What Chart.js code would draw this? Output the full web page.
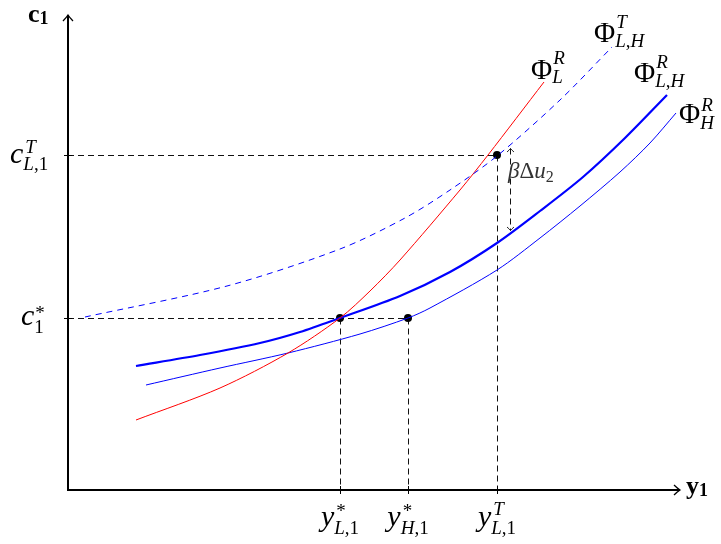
<!DOCTYPE html>
<html><head><meta charset="utf-8">
<script src="https://cdn.jsdelivr.net/npm/chart.js@4/dist/chart.umd.min.js"></script>
<style>html,body{margin:0;padding:0;background:#fff}#wrap{width:721px;height:544px}</style>
</head><body><div id="wrap"><canvas id="c" width="721" height="544"></canvas></div>
<script>
// Curve values (arbitrary units)
const phiLR_x  = [68,152,220,272,302,332,392,420,476];
const phiLR_y  = [70,102,137,172,199,230,300,335,408];
const phiLHT_x = [17,159,272,337,382,429,492,544];
const phiLHT_y = [173,204,241,272,300,334,390,443];
const phiLHR_x = [68,132,192,232,272,332,382,429,472,515,557,599];
const phiLHR_y = [124,135,147,158,172,194,218,247,279,313,352,395];
const phiHR_x  = [78,152,220,292,340,362,429,472,512,552,582,608];
const phiHR_y  = [105,122,137,156,172,182,220,252,284,318,347,377];
// key points
const keyX = [272,340,429];   // y*_{L,1}, y*_{H,1}, y^T_{L,1}
const keyY = [172,335];       // c*_1, c^T_{L,1}
const dotX = [272,340,429];
const dotY = [172,172,335];
const gapTop = 342, gapBottom = 260, gapX = 442; // beta*Delta u_2 arrow
const axisMaxX = 612, axisMaxY = 475;

const pts = (xs, ys) => xs.map((x, i) => ({x, y: ys[i]}));
const FAM = '"Liberation Serif", "Times New Roman", serif';

function runs(ctx, x, y, list, size, measureOnly) {
  let w = 0;
  for (const [t, s] of list) {
    ctx.font = (s === 'i' ? 'italic ' : s === 'b' ? 'bold ' : '') + size + 'px ' + FAM;
    if (!measureOnly) ctx.fillText(t, x + w, y);
    w += ctx.measureText(t).width;
  }
  return w;
}
function mlabel(ctx, x, y, base, bsize, sup, sub, ssize, rise, drop, align, supDx) {
  const bw = runs(ctx, 0, 0, base, bsize, true);
  const sw = Math.max(sup ? runs(ctx, 0, 0, sup, ssize, true) + (supDx||0) : 0, sub ? runs(ctx, 0, 0, sub, ssize, true) : 0);
  const x0 = align === 'center' ? x - (bw + sw) / 2 : x;
  runs(ctx, x0, y, base, bsize);
  if (sup) runs(ctx, x0 + bw + (supDx||0), y - rise, sup, ssize);
  if (sub) runs(ctx, x0 + bw, y + drop, sub, ssize);
}
function arrowHead(ctx, x, y, dir, len, half) {
  ctx.beginPath();
  if (dir === 'up') { ctx.moveTo(x - half, y + len); ctx.quadraticCurveTo(x - half*0.3, y + len*0.4, x, y); ctx.quadraticCurveTo(x + half*0.3, y + len*0.4, x + half, y + len); }
  if (dir === 'down') { ctx.moveTo(x - half, y - len); ctx.quadraticCurveTo(x - half*0.3, y - len*0.4, x, y); ctx.quadraticCurveTo(x + half*0.3, y - len*0.4, x + half, y - len); }
  if (dir === 'right') { ctx.moveTo(x - len, y - half); ctx.quadraticCurveTo(x - len*0.4, y - half*0.3, x, y); ctx.quadraticCurveTo(x - len*0.4, y + half*0.3, x - len, y + half); }
  ctx.stroke();
}

const deco = {
  id: 'deco',
  beforeDatasetsDraw(chart) {
    const ctx = chart.ctx, xs = chart.scales.x, ys = chart.scales.y;
    const X = v => Math.round(xs.getPixelForValue(v)) + 0.5, Y = v => Math.round(ys.getPixelForValue(v)) + 0.5;
    const x0 = Math.round(xs.getPixelForValue(0)), y0 = Math.round(ys.getPixelForValue(0));
    ctx.save();
    // guide lines
    ctx.strokeStyle = '#111'; ctx.lineWidth = 1; ctx.setLineDash([6, 4]);
    ctx.beginPath();
    ctx.moveTo(x0, Y(keyY[1])); ctx.lineTo(X(keyX[2]), Y(keyY[1]));
    ctx.moveTo(x0, Y(keyY[0])); ctx.lineTo(X(keyX[1]), Y(keyY[0]));
    ctx.moveTo(X(keyX[0]), Y(keyY[0])); ctx.lineTo(X(keyX[0]), y0);
    ctx.moveTo(X(keyX[1]), Y(keyY[0])); ctx.lineTo(X(keyX[1]), y0);
    ctx.moveTo(X(keyX[2]), Y(keyY[1])); ctx.lineTo(X(keyX[2]), y0);
    ctx.stroke();
    // beta delta u arrow
    ctx.beginPath();
    ctx.moveTo(X(gapX), Y(gapTop)); ctx.lineTo(X(gapX), Y(gapBottom));
    ctx.stroke();
    ctx.setLineDash([]);
    ctx.lineWidth = 0.9;
    arrowHead(ctx, X(gapX), Y(gapTop), 'up', 3.5, 3.5);
    arrowHead(ctx, X(gapX), Y(gapBottom), 'down', 3.5, 3.5);
    // axes
    ctx.strokeStyle = '#000'; ctx.lineWidth = 2;
    ctx.beginPath();
    ctx.moveTo(x0, y0); ctx.lineTo(x0, ys.getPixelForValue(axisMaxY));
    ctx.moveTo(x0 - 1, y0); ctx.lineTo(xs.getPixelForValue(axisMaxX), y0);
    ctx.stroke();
    ctx.lineWidth = 1.3;
    arrowHead(ctx, x0, ys.getPixelForValue(axisMaxY), 'up', 6, 5);
    arrowHead(ctx, xs.getPixelForValue(axisMaxX), y0, 'right', 6, 5);
    // ticks
    ctx.lineWidth = 1;
    ctx.beginPath();
    keyX.forEach(v => { ctx.moveTo(X(v), y0 - 4); ctx.lineTo(X(v), y0 + 4); });
    keyY.forEach(v => { ctx.moveTo(x0 - 4, Y(v)); ctx.lineTo(x0 + 4, Y(v)); });
    ctx.stroke();
    ctx.restore();
  },
  afterDatasetsDraw(chart) {
    const ctx = chart.ctx, xs = chart.scales.x, ys = chart.scales.y;
    const X = v => xs.getPixelForValue(v), Y = v => ys.getPixelForValue(v);
    const x0 = X(0), y0 = Y(0);
    ctx.save();
    ctx.fillStyle = '#000'; ctx.textBaseline = 'alphabetic'; ctx.textAlign = 'left';
    // axis titles
    const cw = runs(ctx, x0 - 40, Y(axisMaxY) + 7, [['c', 'b']], 26);
    runs(ctx, x0 - 40 + cw, Y(axisMaxY) + 9, [['1', 'b']], 18);
    const yw = runs(ctx, X(axisMaxX) + 6, y0 + 4, [['y', 'b']], 26);
    runs(ctx, X(axisMaxX) + 6 + yw, y0 + 6, [['1', 'b']], 18);
    // y-axis labels
    mlabel(ctx, 10, Y(keyY[1]) + 8, [['c','i']], 30, [['T','i']], [['L','i'],[',1','n']], 19, 10, 7, 'left', 2);
    mlabel(ctx, 21, Y(keyY[0]) + 7, [['c','i']], 30, [['*','n']], [['1','n']], 19, 6, 8, 'left', 1);
    // x-axis labels
    mlabel(ctx, X(keyX[0]), y0 + 36, [['y','i']], 30, [['*','n']], [['L','i'],[',1','n']], 19, 9, 8, 'center', 2);
    mlabel(ctx, X(keyX[1]), y0 + 36, [['y','i']], 30, [['*','n']], [['H','i'],[',1','n']], 19, 9, 8, 'center', 2);
    mlabel(ctx, X(keyX[2]), y0 + 36, [['y','i']], 30, [['T','i']], [['L','i'],[',1','n']], 19, 11, 8, 'center', 2);
    // curve labels
    mlabel(ctx, 531, 79, [['Φ','n']], 29, [['R','i']], [['L','i']], 19, 15, 4, 'left', 1);
    mlabel(ctx, 594, 42, [['Φ','n']], 29, [['T','i']], [['L','i'],[',','n'],['H','i']], 19, 14, 5, 'left', 1);
    mlabel(ctx, 634, 82, [['Φ','n']], 29, [['R','i']], [['L','i'],[',','n'],['H','i']], 19, 14, 5, 'left', 1);
    mlabel(ctx, 679, 123, [['Φ','n']], 29, [['R','i']], [['H','i']], 19, 12, 6, 'left', 1);
    // beta delta u2
    ctx.fillStyle = '#333';
    const bw = runs(ctx, X(gapX) - 2, Y(gapTop) + 30, [['β','i'],['Δ','n'],['u','i']], 23);
    runs(ctx, X(gapX) - 2 + bw, Y(gapTop) + 34, [['2','n']], 16);
    ctx.restore();
  }
};

new Chart(document.getElementById('c'), {
  type: 'scatter',
  data: {
    datasets: [
      { data: pts(phiLHT_x, phiLHT_y), borderColor: '#0000ff', borderWidth: 1, borderDash: [6, 5] },
      { data: pts(phiLR_x, phiLR_y), borderColor: '#ff0000', borderWidth: 1 },
      { data: pts(phiHR_x, phiHR_y), borderColor: '#0000ff', borderWidth: 1 },
      { data: pts(phiLHR_x, phiLHR_y), borderColor: '#0000ff', borderWidth: 2.2 },
      { data: pts(dotX, dotY), showLine: false, pointRadius: 4, backgroundColor: '#000', borderColor: '#000', borderWidth: 0 }
    ].map(d => Object.assign({ showLine: true, pointRadius: 0, fill: false, tension: 0.3, clip: false }, d))
  },
  options: {
    responsive: false, animation: false, devicePixelRatio: 1,
    layout: { padding: { left: 68, top: 15, right: 41, bottom: 54 } },
    plugins: { legend: { display: false }, tooltip: { enabled: false } },
    scales: {
      x: { type: 'linear', min: 0, max: axisMaxX, display: false },
      y: { type: 'linear', min: 0, max: axisMaxY, display: false }
    }
  },
  plugins: [deco]
});
</script></body></html>
